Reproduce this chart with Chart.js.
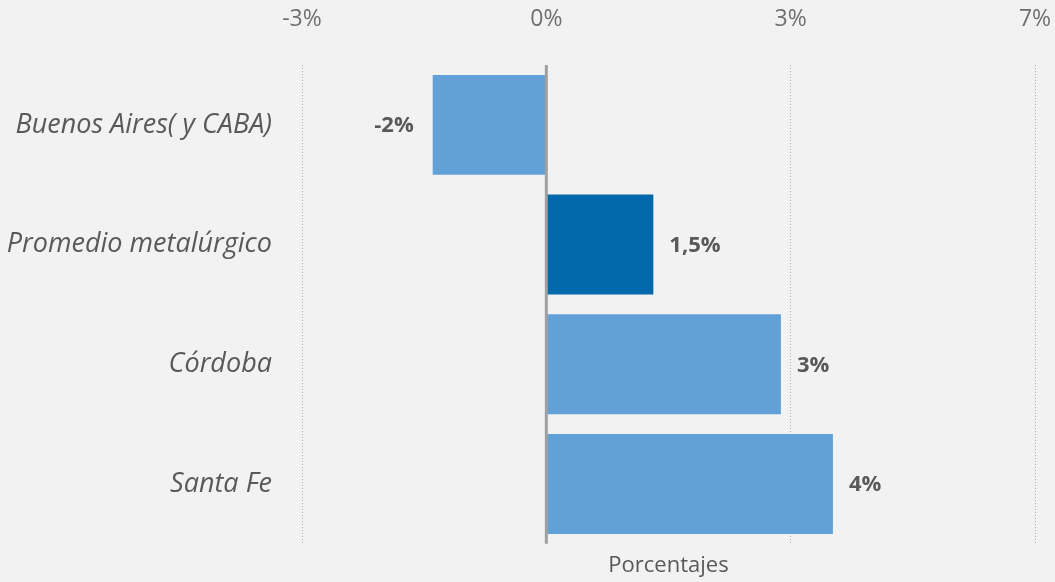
<!DOCTYPE html>
<html>
<head>
<meta charset="utf-8">
<script src="https://cdn.jsdelivr.net/npm/chart.js@4.4.0/dist/chart.umd.min.js"></script>
<style>
  html, body { margin: 0; padding: 0; background: #f2f2f2; }
  #wrap { width: 1055px; height: 582px; }
</style>
</head>
<body>
<div id="wrap"><canvas id="chart"></canvas></div>
<script>
const categories = ["Buenos Aires( y CABA)", "Promedio metalúrgico", "Córdoba", "Santa Fe"];
const values = [-1.55, 1.46, 3.2, 3.91];
const labelDecimals = [0, 1, 0, 0];
const barColors = ["#61a1d7", "#0068ab", "#61a1d7", "#61a1d7"];
const axisMin = -10 / 3;
const axisMax = 20 / 3;
const axisStep = 10 / 3;

const FONT = "'Open Sans', sans-serif";

function pct(v, d) {
  return v.toFixed(d).replace('.', ',') + '%';
}

// zero line + value labels
const extras = {
  id: 'extras',
  afterDatasetsDraw(chart) {
    const ctx = chart.ctx;
    const x = chart.scales.x;
    const area = chart.chartArea;
    const x0 = x.getPixelForValue(0);
    ctx.save();
    ctx.strokeStyle = '#a0a0a0';
    ctx.lineWidth = 3;
    ctx.beginPath();
    ctx.moveTo(x0, area.top);
    ctx.lineTo(x0, area.bottom);
    ctx.stroke();

    ctx.font = "bold 22px " + FONT;
    ctx.fillStyle = '#595959';
    ctx.textBaseline = 'middle';
    chart.getDatasetMeta(0).data.forEach((bar, i) => {
      const v = values[i];
      const txt = pct(v, labelDecimals[i]);
      if (v < 0) {
        ctx.textAlign = 'right';
        ctx.fillText(txt, bar.x - 19, bar.y + 1);
      } else {
        ctx.textAlign = 'left';
        ctx.fillText(txt, bar.x + 16, bar.y + 1);
      }
    });
    ctx.restore();
  }
};

new Chart(document.getElementById('chart'), {
  type: 'bar',
  data: {
    labels: categories,
    datasets: [{
      data: values,
      backgroundColor: barColors,
      borderWidth: 0,
      categoryPercentage: 1,
      barPercentage: 0.835
    }]
  },
  options: {
    indexAxis: 'y',
    responsive: true,
    maintainAspectRatio: false,
    animation: false,
    layout: { padding: { left: 0, right: 20, top: 0, bottom: 0 } },
    plugins: {
      legend: { display: false },
      tooltip: { enabled: false }
    },
    scales: {
      x: {
        position: 'top',
        min: axisMin,
        max: axisMax,
        afterBuildTicks: (scale) => {
          const t = [];
          for (let v = axisMin; v <= axisMax + 1e-9; v += axisStep) t.push({ value: v });
          scale.ticks = t;
        },
        afterFit: (scale) => {
          scale.height = 65;
          scale.paddingLeft = 0;
          scale.paddingRight = 0;
        },
        grid: {
          drawTicks: false,
          color: '#ababab',
          lineWidth: 1
        },
        border: { display: false, dash: [1, 2] },
        ticks: {
          padding: 32,
          color: '#6f6f6f',
          font: { family: FONT, size: 23 },
          callback: (v) => Math.round(v) + '%'
        }
      },
      x2: {
        position: 'bottom',
        type: 'linear',
        min: axisMin,
        max: axisMax,
        afterFit: (scale) => {
          scale.height = 35;
          scale.paddingLeft = 0;
          scale.paddingRight = 0;
        },
        grid: { display: false },
        border: { display: false },
        ticks: { display: false },
        title: {
          display: true,
          text: 'Porcentajes',
          color: '#595959',
          font: { family: FONT, size: 22 },
          padding: { top: 9, bottom: 0 }
        }
      },
      y: {
        afterFit: (scale) => { scale.width = 302; },
        grid: { display: false },
        border: { display: false },
        ticks: {
          padding: 22,
          color: '#595959',
          font: { family: FONT, size: 27, style: 'italic' }
        }
      }
    }
  },
  plugins: [extras]
});
</script>
</body>
</html>
